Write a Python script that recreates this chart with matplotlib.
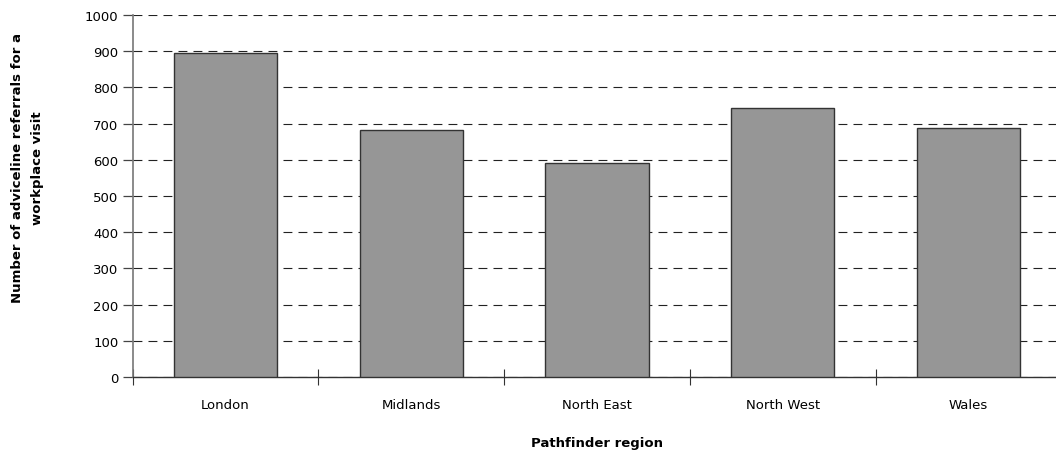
import numpy as np
import matplotlib.pyplot as plt

regions = ['London', 'Midlands', 'North East', 'North West', 'Wales']
referrals = [894, 683, 591, 743, 687]
yticks = list(range(0, 1001, 100))

plt.rcParams['font.family'] = 'DejaVu Sans'

fig = plt.figure(figsize=(10.56, 4.56), dpi=100)
# axes runs slightly past the right edge of the figure
ax = fig.add_axes([132.5 / 1056, 1 - 378 / 456, 929 / 1056, 362 / 456])

x = np.arange(len(regions))
ax.bar(x, referrals, width=0.555, color='#969696', edgecolor='#333333',
       linewidth=1.0, zorder=3)

ax.set_xlim(-0.5, len(regions) - 0.5)
ax.set_ylim(0, 1000)
ax.set_yticks(yticks)
ax.yaxis.grid(True, color='#222222', linestyle=(0, (8, 5.5)), linewidth=0.8,
              zorder=0)
ax.set_axisbelow(True)
ax.tick_params(axis='y', labelsize=9.5, length=7, width=0.9, color='#444444',
               pad=3)

# category labels centred, tick marks on the boundaries
ax.set_xticks(x)
ax.set_xticklabels(regions, fontsize=9.5)
ax.tick_params(axis='x', which='major', length=0, pad=15)
ax.set_xticks(np.arange(len(regions) + 1) - 0.5, minor=True)
ax.tick_params(axis='x', which='minor', direction='inout', length=11,
               width=0.8, color='#333333')

for side in ['top', 'right']:
    ax.spines[side].set_visible(False)
ax.spines['left'].set_color('#777777')
ax.spines['left'].set_linewidth(1.2)
ax.spines['bottom'].set_color('#333333')
ax.spines['bottom'].set_linewidth(1.0)

ax.set_xlabel('Pathfinder region', fontsize=9.5, fontweight='bold',
              labelpad=18)
fig.text(28 / 1056, 1 - 168 / 456,
         'Number of adviceline referrals for a\nworkplace visit',
         rotation=90, ha='center', va='center', fontsize=9.5,
         fontweight='bold', linespacing=1.7)

fig.savefig('out.png', dpi=100)
